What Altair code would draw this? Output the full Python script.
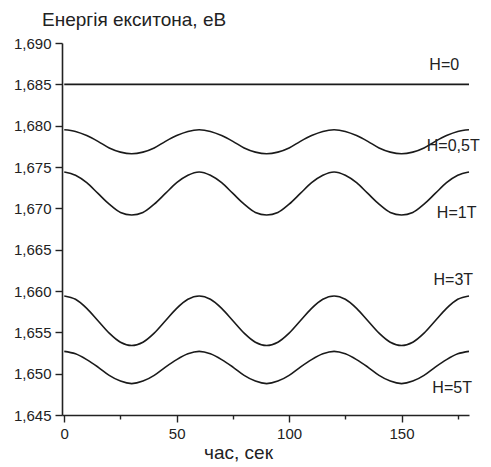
import altair as alt
import pandas as pd

t = [0, 5, 10, 15, 20, 25, 30, 35, 40, 45, 50, 55, 60, 65, 70, 75, 80, 85, 90,
     95, 100, 105, 110, 115, 120, 125, 130, 135, 140, 145, 150, 155, 160, 165, 170, 175, 180]

h0 = [1.6850] * len(t)

h05_period = [1.6795, 1.6793, 1.6788, 1.6781, 1.6773, 1.6768, 1.6766, 1.6768, 1.6773, 1.6781, 1.6788, 1.6793]
h1_period = [1.6744, 1.6740, 1.6731, 1.6718, 1.6705, 1.6695, 1.6692, 1.6695, 1.6705, 1.6718, 1.6731, 1.6740]
h3_period = [1.6594, 1.6590, 1.6579, 1.6564, 1.6549, 1.6538, 1.6534, 1.6538, 1.6549, 1.6564, 1.6579, 1.6590]
h5_period = [1.6527, 1.6524, 1.6517, 1.6508, 1.6498, 1.6491, 1.6488, 1.6491, 1.6498, 1.6508, 1.6517, 1.6524]

h05 = h05_period * 3 + [1.6795]
h1 = h1_period * 3 + [1.6744]
h3 = h3_period * 3 + [1.6594]
h5 = h5_period * 3 + [1.6527]

series = {"H=0": h0, "H=0,5T": h05, "H=1T": h1, "H=3T": h3, "H=5T": h5}

label_text = ["H=0", "H=0,5T", "H=1T", "H=3T", "H=5T"]
label_x = [169, 173, 174.5, 173, 172.5]
label_y = [1.6873, 1.6775, 1.6694, 1.6613, 1.6483]

rows = []
for name, vals in series.items():
    for ti, v in zip(t, vals):
        rows.append({"t": ti, "E": v, "s": name})
df = pd.DataFrame(rows)
lab = pd.DataFrame({"text": label_text, "x": label_x, "y": label_y})

FONT = "Liberation Sans"

x_vals = [0, 25, 50, 75, 100, 125, 150, 175]
y_vals = [1.645 + 0.0025 * i for i in range(19)]

xscale = alt.Scale(domain=[-1, 180], nice=False, zero=False)
yscale = alt.Scale(domain=[1.645, 1.690], nice=False, zero=False)

lines = alt.Chart(df).mark_line(color="#1a1a1a", strokeWidth=1.6, interpolate="monotone").encode(
    x=alt.X("t:Q", scale=xscale, axis=alt.Axis(
        values=x_vals,
        labelExpr="datum.value % 50 == 0 ? datum.value : ''",
        tickSize={"condition": {"test": "datum.value % 50 == 0", "value": 7}, "value": 4},
        title="час, сек", titleFontSize=19, titleFont=FONT, titleFontWeight="normal",
        titleColor="#222", titleX=176, titlePadding=2,
        labelFontSize=15, labelFont=FONT, labelColor="#222", labelPadding=4,
        domainColor="#222", domainWidth=1.6, tickColor="#222", tickWidth=1.4,
        grid=False)),
    y=alt.Y("E:Q", scale=yscale, axis=alt.Axis(
        values=y_vals,
        labelExpr="round(datum.value*10000) % 50 == 0 ? replace(format(datum.value, '.3f'), '.', ',') : ''",
        tickSize={"condition": {"test": "round(datum.value*10000) % 50 == 0", "value": 7}, "value": 4},
        title=None,
        labelFontSize=15, labelFont=FONT, labelColor="#222", labelPadding=4,
        domainColor="#222", domainWidth=1.6, tickColor="#222", tickWidth=1.4,
        grid=False)),
    detail="s:N",
)

texts = alt.Chart(lab).mark_text(font=FONT, fontSize=16, color="#222").encode(
    x=alt.X("x:Q", scale=xscale),
    y=alt.Y("y:Q", scale=yscale),
    text="text:N",
)

chart = alt.layer(lines, texts).properties(
    width=407, height=372,
    padding={"left": 54, "top": 35, "right": 14, "bottom": 52},
    autosize=alt.AutoSizeParams(type="none"),
    title=alt.TitleParams("Енергія екситона, еВ", anchor="start", frame="group",
                          font=FONT, fontSize=19, fontWeight="normal", color="#222",
                          dx=-20, offset=6),
).configure_view(stroke=None)

chart.save("out.html", embed_options={"renderer": "svg", "actions": False})
